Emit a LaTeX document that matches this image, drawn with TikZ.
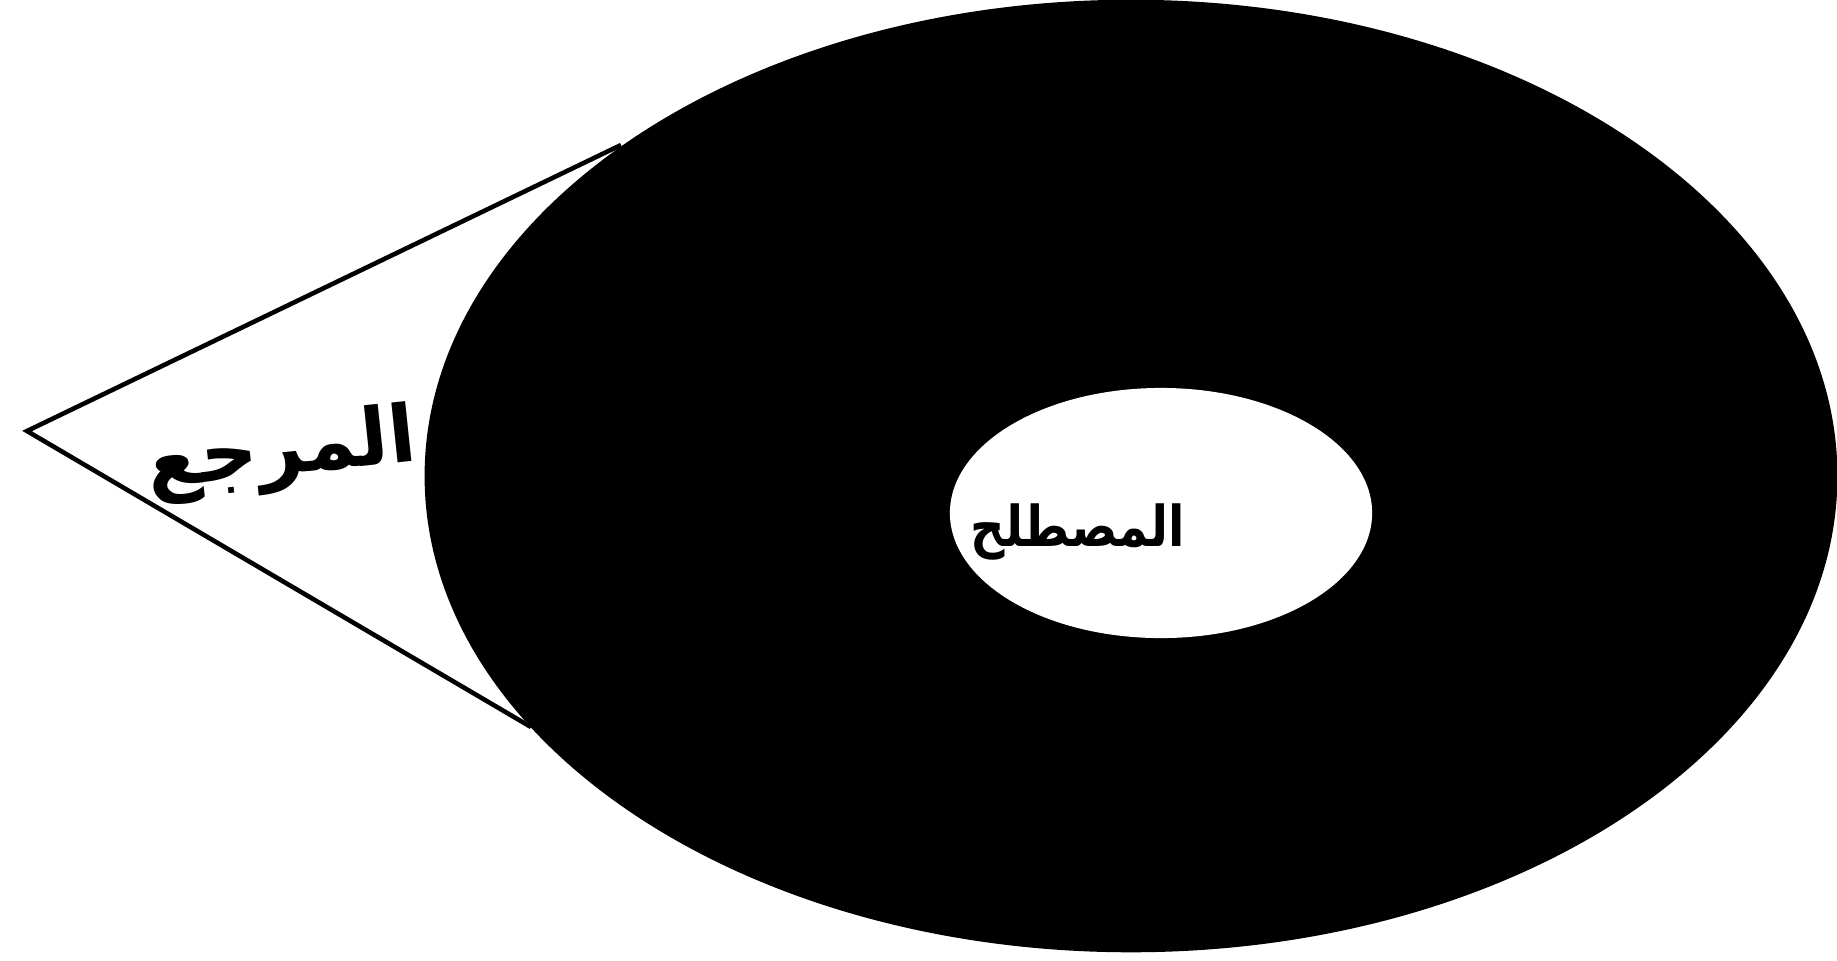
\documentclass[tikz,border=0pt]{standalone}
\usepackage{fontspec}
\usetikzlibrary{shapes.geometric}
\TeXXeTstate=1
\newfontfamily\arabicfont[Script=Arabic]{DejaVu Sans}
\begin{document}
\begin{tikzpicture}[x=0.01cm,y=-0.01cm,
  edgeline/.style={draw=black,line width=1.3pt,line join=miter},
  blob/.style={ellipse,fill=black,draw=none,inner sep=0pt},
  hole/.style={ellipse,fill=white,draw=none,inner sep=0pt},
  lbl/.style={font=\arabicfont\bfseries\fontsize{22.5}{26}\selectfont,inner sep=0pt},
  smalllbl/.style={font=\arabicfont\bfseries\fontsize{16}{19}\selectfont,inner sep=0pt,xscale=0.85}]
\useasboundingbox[fill=white] (0,0) rectangle (1837,960);
\coordinate (apex) at (27,431);
\coordinate (topend) at (621,145);
\coordinate (botend) at (531,727);
\draw[edgeline] (topend) -- (apex) -- (botend);
\node[blob,minimum width=14.12cm,minimum height=9.52cm] (outer) at (1131,476) {};
\node[hole,minimum width=4.22cm,minimum height=2.50cm] (inner) at (1161,513) {};
\node[lbl,rotate=6] (ref) at (282,454) {\beginR المرجع\endR};
\node[smalllbl] (term) at (1078,532) {\beginR المصطلح\endR};
\end{tikzpicture}
\end{document}
